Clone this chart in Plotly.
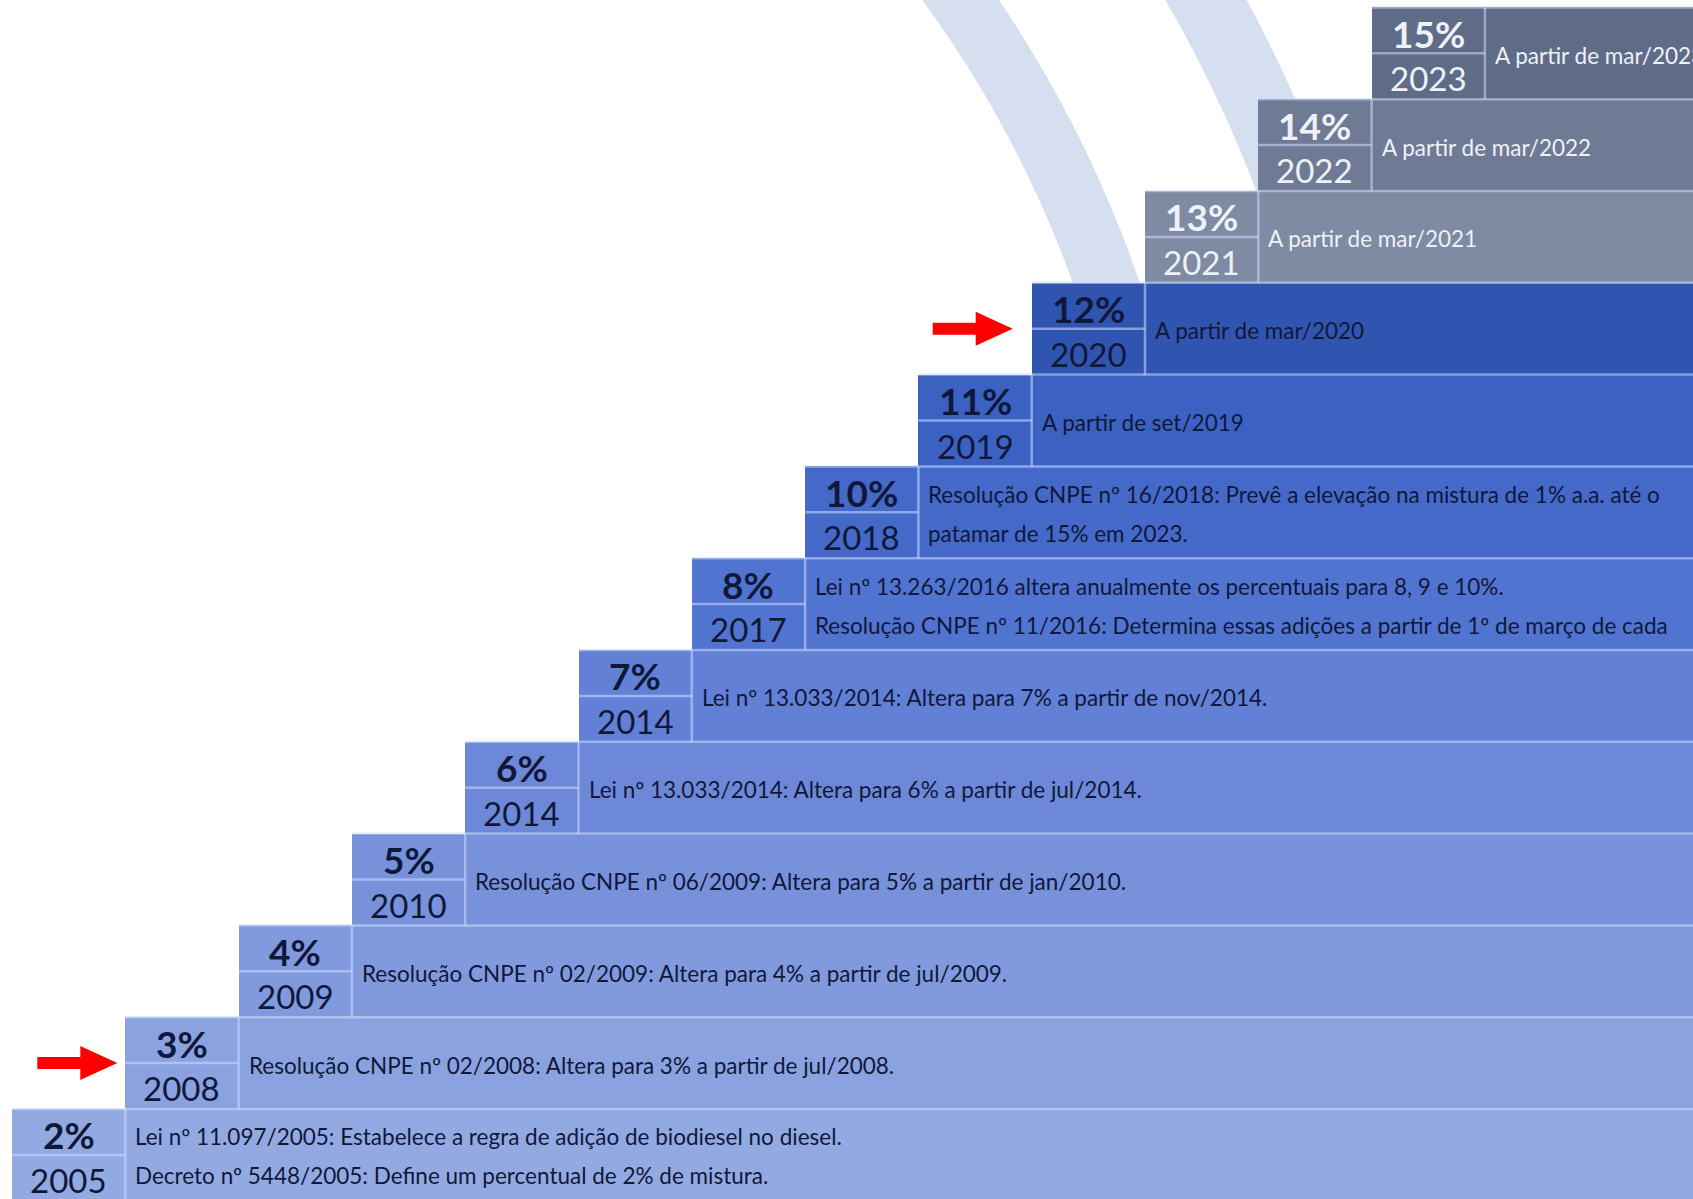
import plotly.graph_objects as go

# ---------------- data ----------------
PERCENTS = ["2%", "3%", "4%", "5%", "6%", "7%", "8%", "10%", "11%", "12%", "13%", "14%", "15%"]
YEARS = ["2005", "2008", "2009", "2010", "2014", "2014", "2017", "2018", "2019", "2020", "2021", "2022", "2023"]
DESCRIPTIONS = [
    ["Lei nº 11.097/2005: Estabelece a regra de adição de biodiesel no diesel.",
     "Decreto nº 5448/2005: Define um percentual de 2% de mistura."],
    ["Resolução CNPE nº 02/2008: Altera para 3% a partir de jul/2008."],
    ["Resolução CNPE nº 02/2009: Altera para 4% a partir de jul/2009."],
    ["Resolução CNPE nº 06/2009: Altera para 5% a partir de jan/2010."],
    ["Lei nº 13.033/2014: Altera para 6% a partir de jul/2014."],
    ["Lei nº 13.033/2014: Altera para 7% a partir de nov/2014."],
    ["Lei nº 13.263/2016 altera anualmente os percentuais para 8, 9 e 10%.",
     "Resolução CNPE nº 11/2016: Determina essas adições a partir de 1º de março de cada"],
    ["Resolução CNPE nº 16/2018: Prevê a elevação na mistura de 1% a.a. até o",
     "patamar de 15% em 2023."],
    ["A partir de set/2019"],
    ["A partir de mar/2020"],
    ["A partir de mar/2021"],
    ["A partir de mar/2022"],
    ["A partir de mar/2023"],
]
HIGHLIGHT_ROWS = [1, 9]

# ---------------- style ----------------
ROW_COLORS = ["#93a9e2", "#8aa2df", "#809add", "#7791db", "#6d88d8", "#6280d6",
              "#5274d1", "#4469c9", "#3b62c2", "#2f55b0", "#7f8aa3", "#6f7b95", "#5f6c88"]
TEXT_DARK = "#10183a"
TEXT_LIGHT = "#eef1f7"
FONT = "Lato, sans-serif"
W, H = 1693, 1199
X0_PX, STEP_X = 12.0, 113.3          # left of first box, box width (px)
ROW0_CENTER_PX, STEP_Y = 1154.9, 91.8  # center of bottom row, row height (px)

n = len(PERCENTS)
rows = list(range(n))
x_end = (W - X0_PX) / STEP_X + 0.5
x_range = [-X0_PX / STEP_X, (W - X0_PX) / STEP_X]
y_range = [(ROW0_CENTER_PX - H) / STEP_Y, ROW0_CENTER_PX / STEP_Y]

fig = go.Figure()

# staircase bars
fig.add_trace(go.Bar(
    orientation="h", y=rows, base=rows, x=[x_end - i for i in rows], width=1,
    marker=dict(color=ROW_COLORS, line=dict(width=0)),
    hoverinfo="skip", showlegend=False,
))

# light separator lines (top edge of each step, box divider, box split)
lx, ly = [], []
for i in rows:
    lx += [i, x_end, None]; ly += [i + 0.5, i + 0.5, None]
    lx += [i + 1, i + 1, None]; ly += [i - 0.5, i + 0.5, None]
    lx += [i, i + 1, None]; ly += [i, i, None]
fig.add_trace(go.Scatter(x=lx, y=ly, mode="lines",
                         line=dict(color="rgba(205,220,255,0.55)", width=2.5),
                         hoverinfo="skip", showlegend=False))

ann = []
for i in rows:
    tc = TEXT_LIGHT if i >= 10 else TEXT_DARK
    ann.append(dict(x=i + 0.5, y=i, text=f"<b>{PERCENTS[i]}</b>", showarrow=False,
                    xanchor="center", yanchor="middle", yshift=20,
                    font=dict(family=FONT, size=37, color=tc)))
    ann.append(dict(x=i + 0.5, y=i, text=YEARS[i], showarrow=False,
                    xanchor="center", yanchor="middle", yshift=-25,
                    font=dict(family=FONT, size=33, color=tc)))
    lines = DESCRIPTIONS[i]
    shifts = [-2] if len(lines) == 1 else [18, -21]
    for txt, ys in zip(lines, shifts):
        ann.append(dict(x=i + 1, y=i, text=txt, showarrow=False,
                        xanchor="left", yanchor="middle", xshift=8, yshift=ys,
                        font=dict(family=FONT, size=22.5, color=tc)))

shapes = []
# background arcs
for cx, cy, r, lw in [(21, 663, 1150, 63), (21, 663, 1358, 71)]:
    shapes.append(dict(type="circle", xref="paper", yref="paper", layer="below",
                       x0=(cx - r) / W, x1=(cx + r) / W,
                       y0=1 - (cy + r) / H, y1=1 - (cy - r) / H,
                       line=dict(color="#d6dff0", width=lw), fillcolor="rgba(0,0,0,0)"))
# red arrows pointing at highlighted steps
arrow_tips = {1: -8, 9: -19}
for i in HIGHLIGHT_ROWS:
    t = arrow_tips[i]
    path = (f"M {t-80},-6 L {t-37},-6 L {t-37},-17 L {t},0 "
            f"L {t-37},17 L {t-37},6 L {t-80},6 Z")
    shapes.append(dict(type="path", xref="x", yref="y", xsizemode="pixel", ysizemode="pixel",
                       xanchor=i, yanchor=i, path=path,
                       fillcolor="#ff0000", line=dict(width=0), layer="above"))

fig.update_layout(
    width=W, height=H, margin=dict(l=0, r=0, t=0, b=0),
    paper_bgcolor="white", plot_bgcolor="rgba(0,0,0,0)",
    bargap=0, barmode="overlay",
    xaxis=dict(range=x_range, visible=False, fixedrange=True),
    yaxis=dict(range=y_range, visible=False, fixedrange=True),
    annotations=ann, shapes=shapes, showlegend=False,
)
fig.write_html("out.html", config={"displayModeBar": False},
               post_script="document.body.style.margin='0px';document.body.style.overflow='hidden';")
